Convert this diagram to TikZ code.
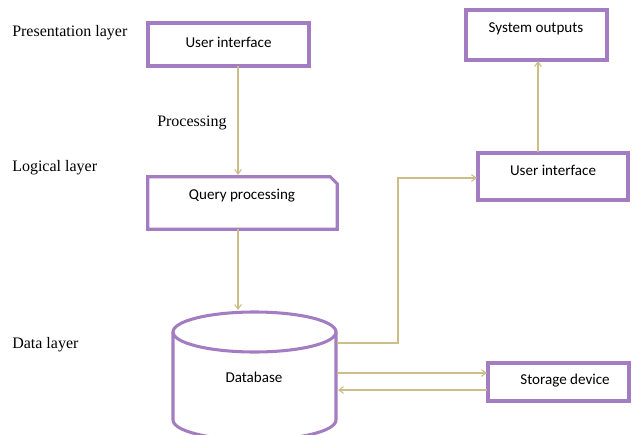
\documentclass[tikz,border=0pt]{standalone}
\usepackage{fontspec}
\setmainfont{Liberation Serif}
\newfontfamily\boxfont{Carlito}
\usetikzlibrary{arrows.meta,calc}
\definecolor{boxpurple}{RGB}{163,124,193}
\definecolor{linktan}{RGB}{205,190,135}
\tikzset{
  px/.style={x=0.75pt,y=-0.75pt},
  boxline/.style={draw=boxpurple,line width=2.3pt},
  plainbox/.style={boxline,rectangle,inner sep=0pt},
  shell/.style={rectangle,inner sep=0pt},
  boxtext/.style={font=\boxfont\fontsize{11.3}{13}\selectfont,inner sep=0pt,anchor=center},
  layer/.style={font=\fontsize{12}{14}\selectfont,inner sep=0pt,anchor=west},
  conn/.style={draw=linktan,line width=0.8pt,-{Straight Barb[length=3.5pt,width=5pt]}},
  link/.style={draw=linktan,line width=0.8pt}
}
\begin{document}
\begin{tikzpicture}[px]
\useasboundingbox (0,0) rectangle (632,435);

% layer captions
\node[layer] (lpres) at (12,32.5) {Presentation layer};
\node[layer] (llog) at (12,167.5) {Logical layer};
\node[layer] (ldata) at (12,345) {Data layer};
\node[layer] (lproc) at (157,123) {Processing};

% presentation box
\node[plainbox,minimum width=161*0.75pt,minimum height=43*0.75pt] (ui1) at (228.5,44.5) {};
\node[boxtext] (ui1t) at (228.5,42.5) {User interface};

% query processing box with snipped corner
\node[shell,minimum width=189*0.75pt,minimum height=52*0.75pt] (qp) at (242.5,203) {};
\draw[boxline,line join=miter] (qp.south west) -- (qp.north west)
  -- ($(qp.north east)+(-7,0)$) -- ($(qp.north east)+(0,7)$)
  -- (qp.south east) -- cycle;
\node[boxtext] (qpt) at (242,195.5) {Query processing};

% database cylinder (lower rim runs past the frame)
\node[shell,minimum width=163*0.75pt,minimum height=128*0.75pt] (db) at (254.5,376) {};
\draw[boxline] (254.5,332) ellipse [x radius=81.5,y radius=20];
\draw[boxline] (173,332) -- (173,420) arc[start angle=180,end angle=0,x radius=81.5,y radius=20] -- (336,332);
\node[boxtext] (dbt) at (254,377.5) {Database};

% right-hand boxes
\node[plainbox,minimum width=141*0.75pt,minimum height=50*0.75pt] (sysout) at (536.5,35) {};
\node[boxtext] (sysoutt) at (536,28.5) {System outputs};
\node[plainbox,minimum width=150*0.75pt,minimum height=47*0.75pt] (ui2) at (553,176.5) {};
\node[boxtext] (ui2t) at (553,170.5) {User interface};
\node[plainbox,minimum width=141*0.75pt,minimum height=38*0.75pt] (store) at (558.5,382) {};
\node[boxtext] (storet) at (565,380.5) {Storage device};

% connector end points
\coordinate (a1) at (238,66);
\coordinate (a2) at (238,175);
\coordinate (b1) at (238,229);
\coordinate (b2) at (238,310);
\coordinate (c1) at (337,343);
\coordinate (c2) at (398,343);
\coordinate (c3) at (398,178);
\coordinate (c4) at (477,178);
\coordinate (d1) at (337,373);
\coordinate (d2) at (487,373);
\coordinate (e1) at (487,390);
\coordinate (e2) at (338,390);
\coordinate (f1) at (538,152);
\coordinate (f2) at (538,61);

% connectors
\draw[conn] (a1) -- (a2);
\draw[conn] (b1) -- (b2);
\draw[conn] (c1) -- (c2) -- (c3) -- (c4);
\draw[conn] (d1) -- (d2);
\draw[conn] (e1) -- (e2);
\draw[conn] (f1) -- (f2);
\end{tikzpicture}
\end{document}
